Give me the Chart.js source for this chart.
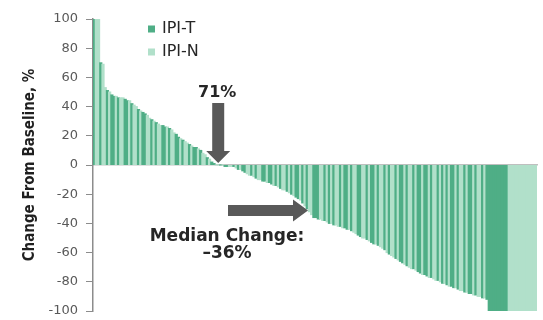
<!DOCTYPE html>
<html>
<head>
<meta charset="utf-8">
<title>Waterfall - cambio desde basal</title>
<script src="https://cdn.jsdelivr.net/npm/chart.js@4.4.1/dist/chart.umd.min.js"></script>
<style>
  html, body { margin: 0; padding: 0; background: #ffffff; }
  #wrap { width: 543px; height: 320px; }
</style>
</head>
<body>
<div id="wrap"><canvas id="waterfallChart" width="543" height="320"></canvas></div>
<script>
// Cambio porcentual desde el basal, un valor por paciente (ordenado de mayor a menor)
const changeFromBaseline = [
    100, 100, 100, 70, 69, 53, 51, 50, 48, 47,
    47, 46, 46, 46, 45, 44, 44, 42, 41, 40,
    38, 37, 36, 35, 34, 32, 31, 30, 29, 28,
    27, 27, 26, 26, 25, 24, 22, 21, 19, 18,
    17, 16, 15, 14, 13, 12, 12, 11, 10, 8,
    7, 5, 4, 2, 1, 0, 0, 0, 0, -1,
    -1, -1, -1, -1, -2, -3, -3, -4, -5, -6,
    -7, -7, -8, -9, -10, -10, -11, -11, -12, -12,
    -13, -14, -14, -15, -16, -17, -17, -18, -19, -20,
    -21, -22, -23, -24, -26, -28, -30, -32, -34, -36,
    -36, -37, -37, -38, -38, -39, -40, -40, -41, -41,
    -42, -42, -43, -43, -44, -44, -45, -46, -47, -48,
    -49, -50, -50, -51, -52, -53, -54, -54, -55, -56,
    -57, -58, -60, -61, -62, -63, -64, -65, -66, -67,
    -68, -69, -70, -71, -71, -72, -73, -74, -75, -75,
    -76, -77, -77, -78, -79, -79, -80, -81, -81, -82,
    -83, -83, -84, -84, -85, -86, -86, -87, -87, -88,
    -88, -89, -89, -90, -90, -91, -91, -92, -100, -100,
    -100, -100, -100, -100, -100, -100, -100, -100, -100, -100,
    -100, -100, -100, -100, -100, -100, -100, -100, -100, -100
];

// Brazo de cada paciente: T = IPI-T, N = IPI-N
const armCodes = [
    'TNNTNNTNTT', 'NTNNTTNTNN', 'TNTTNNTNTN', 'NTTNTNNTTN', 'TNNTNTTNTN',
    'NTNTTNNTNT', 'TNNTNTNTTN', 'NTNTNNTTNT', 'TNTNTNNTNT', 'NTTNTNTNNT',
    'TTNNTNTNTN', 'NTNTTNTNNT', 'TNNTNTTNTN', 'NTNTNNTNTT', 'NTNNTNTTNT',
    'TNTNNTNTNT', 'NTTNTNNTNT', 'TNTNNTNT', 'TTTTTTTTT', 'NNNNNNNNNNNNN'
].join('').split('');

const seriesCodes = ['T', 'N'];
const seriesNames = ['IPI-T', 'IPI-N'];
const seriesColors = ['#4FAE86', '#B1E0CA'];

const yMin = -100;
const yMax = 100;
const yStep = 20;

const responseLabel = '71%';
const medianChange = -36;
const medianLabel = ['Median Change:', '\u201336%'];

const GRAY_ARROW = '#595959';
const TEXT_DARK = '#262626';

const labels = changeFromBaseline.map((v, i) => `P${i + 1}`);
const barColors = armCodes.map(code => seriesColors[seriesCodes.indexOf(code)]);

function drawDownArrow(ctx, x, tipY) {
    ctx.beginPath();
    ctx.moveTo(x - 6, tipY - 60);
    ctx.lineTo(x + 6, tipY - 60);
    ctx.lineTo(x + 6, tipY - 12);
    ctx.lineTo(x + 12, tipY - 12);
    ctx.lineTo(x, tipY);
    ctx.lineTo(x - 12, tipY - 12);
    ctx.lineTo(x - 6, tipY - 12);
    ctx.closePath();
    ctx.fill();
}

function drawRightArrow(ctx, tipX, y) {
    ctx.beginPath();
    ctx.moveTo(tipX - 80, y - 5.5);
    ctx.lineTo(tipX - 15, y - 5.5);
    ctx.lineTo(tipX - 15, y - 11);
    ctx.lineTo(tipX, y);
    ctx.lineTo(tipX - 15, y + 11);
    ctx.lineTo(tipX - 15, y + 5.5);
    ctx.lineTo(tipX - 80, y + 5.5);
    ctx.closePath();
    ctx.fill();
}

// Leyenda vertical y anotaciones (flechas y textos)
const annotationsPlugin = {
    id: 'waterfallAnnotations',
    afterDatasetsDraw(chart) {
        const { ctx, scales: { x, y } } = chart;
        ctx.save();

        // leyenda
        ctx.font = '16px "DejaVu Sans"';
        ctx.textBaseline = 'middle';
        ctx.textAlign = 'left';
        seriesNames.forEach((name, k) => {
            const rowY = 29 + k * 23;
            ctx.fillStyle = seriesColors[k];
            ctx.fillRect(148, rowY - 3.5, 7, 7);
            ctx.fillStyle = TEXT_DARK;
            ctx.fillText(name, 162, rowY);
        });

        // flecha en el cruce por cero
        const positives = changeFromBaseline.filter(v => v > 0).length;
        const zx = x.getPixelForValue(positives) + 2;
        const zy = y.getPixelForValue(0) - 2;
        ctx.fillStyle = GRAY_ARROW;
        drawDownArrow(ctx, zx, zy);
        ctx.fillStyle = TEXT_DARK;
        ctx.font = 'bold 16px "DejaVu Sans"';
        ctx.textAlign = 'center';
        ctx.fillText(responseLabel, zx - 1, zy - 70);

        // flecha de la mediana
        const medIdx = (changeFromBaseline.length - 1) / 2;
        const mx = x.getPixelForValue(medIdx) - 7;
        const my = y.getPixelForValue(medianChange) - 7;
        ctx.fillStyle = GRAY_ARROW;
        drawRightArrow(ctx, mx, my);
        ctx.fillStyle = TEXT_DARK;
        ctx.font = 'bold 17px "DejaVu Sans"';
        ctx.fillText(medianLabel[0], mx - 81, my + 26);
        ctx.fillText(medianLabel[1], mx - 81, my + 43);

        ctx.restore();
    }
};

const ctx = document.getElementById('waterfallChart').getContext('2d');
const chart = new Chart(ctx, {
    type: 'bar',
    data: {
        labels,
        datasets: [{
            label: 'Change From Baseline',
            data: changeFromBaseline,
            backgroundColor: barColors,
            borderWidth: 0,
            inflateAmount: 0.5,
            categoryPercentage: 1.0,
            barPercentage: 1.0
        }]
    },
    options: {
        responsive: false,
        animation: false,
        layout: { padding: { left: 17, top: 19, right: 6, bottom: 9 } },
        scales: {
            x: {
                position: { y: 0 },
                afterFit: (scale) => { scale.height = 0; },
                grid: { display: false },
                ticks: { display: false },
                border: { display: true, color: '#BFBFBF', width: 1.5 }
            },
            y: {
                min: yMin,
                max: yMax,
                afterFit: (scale) => {
                    scale.width = 76;
                    // el padding de las etiquetas no debe encoger el area del grafico
                    scale.paddingTop = 8;
                    scale.paddingBottom = 8;
                },
                ticks: {
                    stepSize: yStep,
                    padding: 8,
                    color: '#595959',
                    font: { family: 'DejaVu Sans', size: 13 }
                },
                grid: {
                    drawOnChartArea: false,
                    drawTicks: true,
                    tickLength: 7,
                    color: '#8C8C8C'
                },
                border: { display: true, color: '#8C8C8C', width: 1.5 },
                title: {
                    display: true,
                    text: 'Change From Baseline, %',
                    color: '#1F1F1F',
                    font: { family: 'DejaVu Sans Condensed', weight: 'bold', size: 15 }
                }
            }
        },
        plugins: {
            legend: { display: false },
            tooltip: { enabled: false }
        }
    },
    plugins: [annotationsPlugin]
});
</script>
</body>
</html>
